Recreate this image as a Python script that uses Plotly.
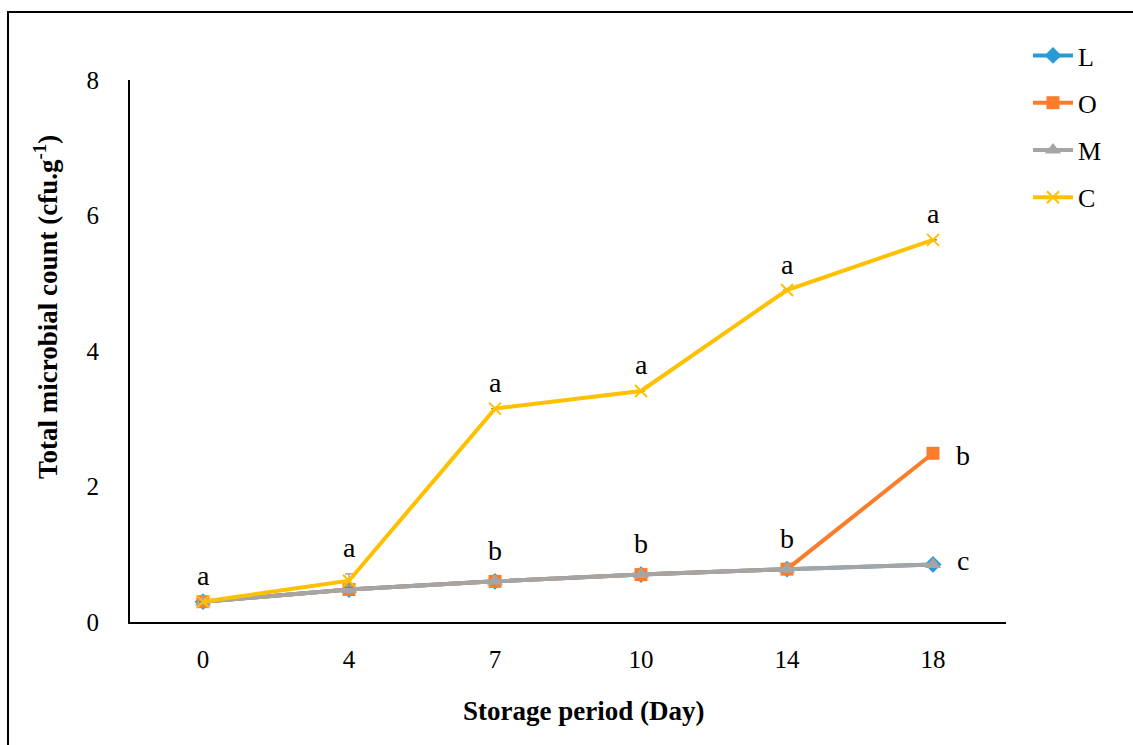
import plotly.graph_objects as go

days = ["0", "4", "7", "10", "14", "18"]
L_vals = [0.30, 0.48, 0.60, 0.70, 0.78, 0.85]
O_vals = [0.30, 0.48, 0.60, 0.70, 0.78, 2.49]
M_vals = [0.30, 0.48, 0.60, 0.70, 0.78, 0.85]
C_vals = [0.30, 0.61, 3.15, 3.41, 4.90, 5.64]
C_err = [0.0, 0.10, 0.0, 0.0, 0.0, 0.0]

C_letters = ["a", "a", "a", "a", "a", "a"]
group_letters = ["", "", "b", "b", "b", ""]
O_last_letter = "b"
LM_last_letter = "c"

FONT = "Palatino Linotype, Book Antiqua, Liberation Serif, serif"

fig = go.Figure()

fig.add_trace(go.Scatter(x=days, y=L_vals, name="L", mode="lines+markers",
                         line=dict(color="#2A9AD6", width=4),
                         marker=dict(symbol="diamond", size=13, color="#2A9AD6"),
                         legendgroup="L"))
fig.add_trace(go.Scatter(x=days, y=O_vals, name="O", mode="lines+markers",
                         line=dict(color="#FB7D2B", width=4),
                         marker=dict(symbol="square", size=13, color="#FB7D2B"),
                         legendgroup="O"))
fig.add_trace(go.Scatter(x=days, y=M_vals, name="M", mode="lines+markers",
                         line=dict(color="#A5A5A5", width=4),
                         marker=dict(symbol="triangle-up", size=14, color="#A5A5A5"),
                         legendgroup="M"))
fig.add_trace(go.Scatter(x=days, y=C_vals, name="C", mode="lines+markers",
                         line=dict(color="#FFC000", width=4),
                         marker=dict(symbol="x-thin-open", size=12,
                                     line=dict(color="#FFC000", width=2)),
                         error_y=dict(type="data", array=C_err, visible=True,
                                      color="#7F7F7F", thickness=1, width=4,
                                      symmetric=True),
                         legendgroup="C"))

LET = dict(family=FONT, size=28, color="black")
annotations = []
for i, d in enumerate(days):
    top = C_vals[i] + C_err[i]
    annotations.append(dict(x=i, y=top, xref="x", yref="y", text=C_letters[i],
                            showarrow=False, yshift=26, font=LET))
    if group_letters[i]:
        annotations.append(dict(x=i, y=O_vals[i], xref="x", yref="y",
                                text=group_letters[i], showarrow=False, yshift=31, font=LET))
last = len(days) - 1
annotations.append(dict(x=last, y=O_vals[-1], xref="x", yref="y", text=O_last_letter,
                        showarrow=False, xshift=30, yshift=-2, font=LET))
annotations.append(dict(x=last, y=L_vals[-1], xref="x", yref="y", text=LM_last_letter,
                        showarrow=False, xshift=30, yshift=4, font=LET))

# axis titles
annotations.append(dict(x=(583 - 130) / 876, y=(622 - 711) / 542, xref="paper", yref="paper",
                        xanchor="center", yanchor="middle",
                        text="<b>Storage period (Day)</b>", showarrow=False,
                        font=dict(family=FONT, size=27, color="black")))
annotations.append(dict(x=(46 - 130) / 876, y=(622 - 307) / 542, xref="paper", yref="paper",
                        xanchor="center", yanchor="middle",
                        text="<b>Total microbial count (cfu.g<sup>-1</sup>)</b>", showarrow=False,
                        textangle=-90,
                        font=dict(family=FONT, size=27, color="black")))

fig.update_layout(
    width=1133, height=745,
    margin=dict(l=130, r=127, t=80, b=123),
    paper_bgcolor="white", plot_bgcolor="white",
    font=dict(family=FONT, size=25, color="black"),
    showlegend=True,
    legend=dict(x=(1028 - 130) / 876, y=(622 - 32) / 542, xanchor="left", yanchor="top",
                font=dict(family=FONT, size=26, color="black"),
                tracegroupgap=10.5, bgcolor="rgba(0,0,0,0)", itemwidth=40),
    annotations=annotations,
    shapes=[dict(type="rect", xref="paper", yref="paper",
                 x0=(8 - 130) / 876, x1=(1145 - 130) / 876,
                 y0=(622 - 770) / 542, y1=(622 - 12) / 542,
                 line=dict(color="black", width=2), fillcolor="rgba(0,0,0,0)", layer="below")],
)

fig.update_xaxes(type="category", range=[-0.5, len(days) - 0.5], showline=True,
                 linecolor="black", linewidth=2,
                 showgrid=False, ticks="", ticklabelstandoff=14,
                 tickfont=dict(family=FONT, size=25, color="black"), zeroline=False)
fig.update_yaxes(range=[0, 8], tickvals=[0, 2, 4, 6, 8], showline=True, linecolor="black",
                 linewidth=2, showgrid=False, ticks="", ticklabelstandoff=24,
                 tickfont=dict(family=FONT, size=25, color="black"), zeroline=False)

fig.write_html("out.html")
